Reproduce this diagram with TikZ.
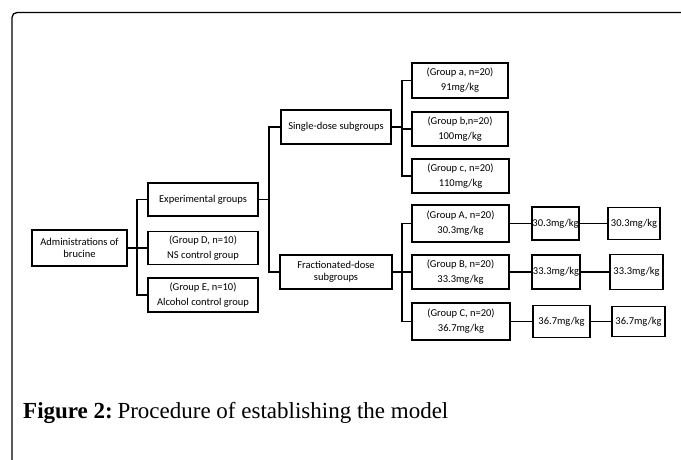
\documentclass[tikz,border=0pt]{standalone}
\usepackage{fontspec}
\setmainfont{Liberation Serif}
\newfontfamily\boxfont{Carlito}
\begin{document}
\begin{tikzpicture}[x=1pt,y=-1pt,
  bx/.style={draw=black, line width=1.1pt, inner sep=0pt, align=center,
    font=\boxfont\fontsize{10.5}{15}\selectfont},
  tight/.style={font=\boxfont\fontsize{10.5}{12}\selectfont},
  ln/.style={draw=black, line width=1.1pt}]
\useasboundingbox (0,0) rectangle (681,460);
\draw[line width=1.3pt, rounded corners=5pt] (12,470) -- (12,12.5) -- (700,12.5);
% nodes
\node[bx, tight, minimum width=95pt, minimum height=36pt] (admin) at (79.5,248) {Administrations of\\brucine};
\node[bx, minimum width=110pt, minimum height=33pt] (exp) at (203,199.5) {Experimental groups};
\node[bx, minimum width=110pt, minimum height=33pt] (grpD) at (203,248) {(Group D, n=10)\\NS control group};
\node[bx, minimum width=110pt, minimum height=34pt] (grpE) at (203,295) {(Group E, n=10)\\Alcohol control group};
\node[bx, minimum width=110pt, minimum height=34pt] (single) at (336,127) {Single-dose subgroups};
\node[bx, tight, minimum width=112pt, minimum height=34pt] (frac) at (336,272) {Fractionated-dose\\subgroups};
\node[bx, minimum width=96pt, minimum height=35pt] (ga) at (460,80.5) {(Group a, n=20)\\91mg/kg};
\node[bx, minimum width=96pt, minimum height=34pt] (gb) at (460,129) {(Group b,n=20)\\100mg/kg};
\node[bx, minimum width=97pt, minimum height=34pt] (gc) at (460.5,176) {(Group c, n=20)\\110mg/kg};
\node[bx, minimum width=97pt, minimum height=37pt] (gA) at (460.5,223.5) {(Group A, n=20)\\30.3mg/kg};
\node[bx, minimum width=97pt, minimum height=34pt] (gB) at (460.5,272) {(Group B, n=20)\\33.3mg/kg};
\node[bx, minimum width=98pt, minimum height=37pt] (gC) at (461,321.5) {(Group C, n=20)\\36.7mg/kg};
\node[bx, minimum width=47pt, minimum height=33pt] (A1) at (555.5,223.5) {30.3mg/kg};
\node[bx, minimum width=52pt, minimum height=32pt] (A2) at (634,223.5) {30.3mg/kg};
\node[bx, minimum width=48pt, minimum height=34pt] (B1) at (556,272) {33.3mg/kg};
\node[bx, minimum width=53pt, minimum height=35pt] (B2) at (636.5,272) {33.3mg/kg};
\node[bx, minimum width=57pt, minimum height=32pt] (C1) at (561.5,321.5) {36.7mg/kg};
\node[bx, minimum width=53pt, minimum height=30pt] (C2) at (638.5,321.5) {36.7mg/kg};
% junction coordinates
\coordinate (j1) at (137,248);
\coordinate (j2) at (269,199.5);
\coordinate (j3) at (402,127);
\coordinate (j4) at (402,272);
% connectors
\draw[ln] (admin.east) -- (grpD.west);
\draw[ln] (exp.west) -- (exp.west -| j1) -- (grpE.west -| j1) -- (grpE.west);
\draw[ln] (exp.east) -- (j2);
\draw[ln] (single.west) -- (single.west -| j2) -- (frac.west -| j2) -- (frac.west);
\draw[ln] (single.east) -- (j3);
\draw[ln] (ga.west) -- (ga.west -| j3) -- (gc.west -| j3) -- (gc.west);
\draw[ln] (gb.west) -- (gb.west -| j3);
\draw[ln] (frac.east) -- (j4);
\draw[ln] (gA.west) -- (gA.west -| j4) -- (gC.west -| j4) -- (gC.west);
\draw[ln] (gB.west) -- (gB.west -| j4);
\draw[ln] (gA.east) -- (A1.west);
\draw[ln] (A1.east) -- (A2.west);
\draw[ln] (gB.east) -- (B1.west);
\draw[ln] (B1.east) -- (B2.west);
\draw[ln] (gC.east) -- (C1.west);
\draw[ln] (C1.east) -- (C2.west);
% caption
\node[anchor=base west, inner sep=0pt, font=\fontsize{23}{27}\selectfont] (cap) at (23,418) {\textbf{Figure 2:}\kern-3pt{} Procedure of establishing the model};
\end{tikzpicture}
\end{document}
